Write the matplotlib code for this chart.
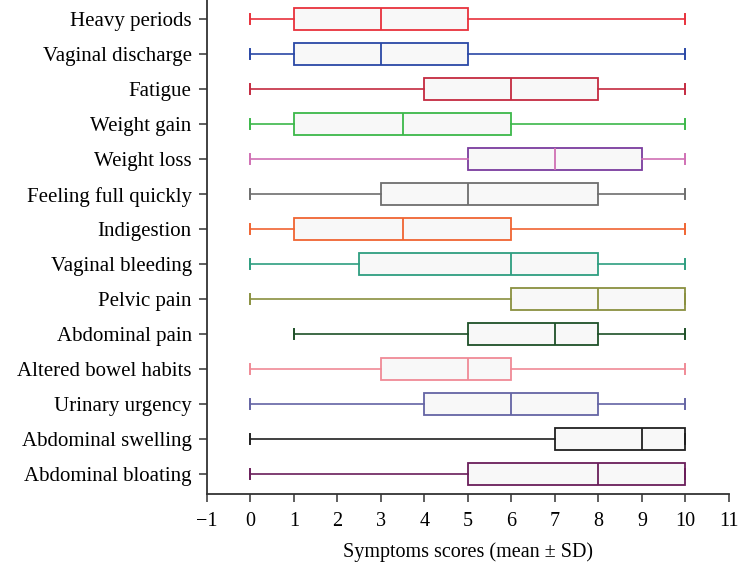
import matplotlib
matplotlib.use("Agg")
import matplotlib.pyplot as plt

plt.rcParams['font.family'] = ['Liberation Serif', 'DejaVu Serif']

# symptoms, top to bottom
labels = ["Heavy periods", "Vaginal discharge", "Fatigue", "Weight gain",
          "Weight loss", "Feeling full quickly", "Indigestion", "Vaginal bleeding",
          "Pelvic pain", "Abdominal pain", "Altered bowel habits", "Urinary urgency",
          "Abdominal swelling", "Abdominal bloating"]
whislo = [0, 0, 0, 0, 0, 0, 0, 0, 0, 1, 0, 0, 0, 0]
q1 =     [1, 1, 4, 1, 5, 3, 1, 2.5, 6, 5, 3, 4, 7, 5]
med =    [3, 3, 6, 3.5, 7, 5, 3.5, 6, 8, 7, 5, 6, 9, 8]
q3 =     [5, 5, 8, 6, 9, 8, 6, 8, 10, 8, 6, 8, 10, 10]
whishi = [10, 10, 10, 10, 10, 10, 10, 10, 10, 10, 10, 10, 10, 10]
box_colors = ["#e8313c", "#2a48a6", "#c42a40", "#3cb84a", "#7a3c9e", "#6e6e6e",
              "#f06432", "#2e9e80", "#8a9040", "#1e5028", "#f08a96", "#6464a4",
              "#202020", "#6a1e5a"]
line_colors = ["#e8313c", "#2a48a6", "#c42a40", "#3cb84a", "#d070b4", "#6e6e6e",
               "#f06432", "#2e9e80", "#8a9040", "#1e5028", "#f08a96", "#6464a4",
               "#202020", "#6a1e5a"]

fig = plt.figure(figsize=(7.4, 5.64), dpi=100)
ax = fig.add_axes([0.2797, 0.124, 0.7053, 0.876])

n = len(labels)
for i in range(n):
    pos = n - 1 - i
    stats = [dict(whislo=whislo[i], q1=q1[i], med=med[i], q3=q3[i], whishi=whishi[i], fliers=[])]
    ax.bxp(stats, positions=[pos], widths=0.62, orientation='horizontal',
           patch_artist=True, capwidths=0.28,
           boxprops=dict(facecolor="#f8f8f8", edgecolor=box_colors[i], linewidth=1.3),
           whiskerprops=dict(color=line_colors[i], linewidth=1.2),
           capprops=dict(color=line_colors[i], linewidth=1.4),
           medianprops=dict(color=line_colors[i], linewidth=1.3),
           manage_ticks=False)

ax.set_yticks(range(n))
ax.set_yticklabels(labels[::-1], fontsize=15)
ax.set_ylim(-0.57, 13.55)
ax.set_xlim(-1, 11)
ax.set_xticks(range(-1, 12))
ax.set_xticklabels(["\u22121"] + [str(v) for v in range(0, 12)], fontsize=14.5)
ax.set_xlabel("Symptoms scores (mean \u00b1 SD)", fontsize=14.5, labelpad=8)

for s in ["top", "right"]:
    ax.spines[s].set_visible(False)
for s in ["left", "bottom"]:
    ax.spines[s].set_color("#333333")
    ax.spines[s].set_linewidth(1.3)
ax.tick_params(axis='both', direction='out', length=6, width=1.1, color="#333333")
ax.tick_params(axis='y', pad=5)
ax.tick_params(axis='x', pad=7)

fig.savefig("out.png", dpi=100)
